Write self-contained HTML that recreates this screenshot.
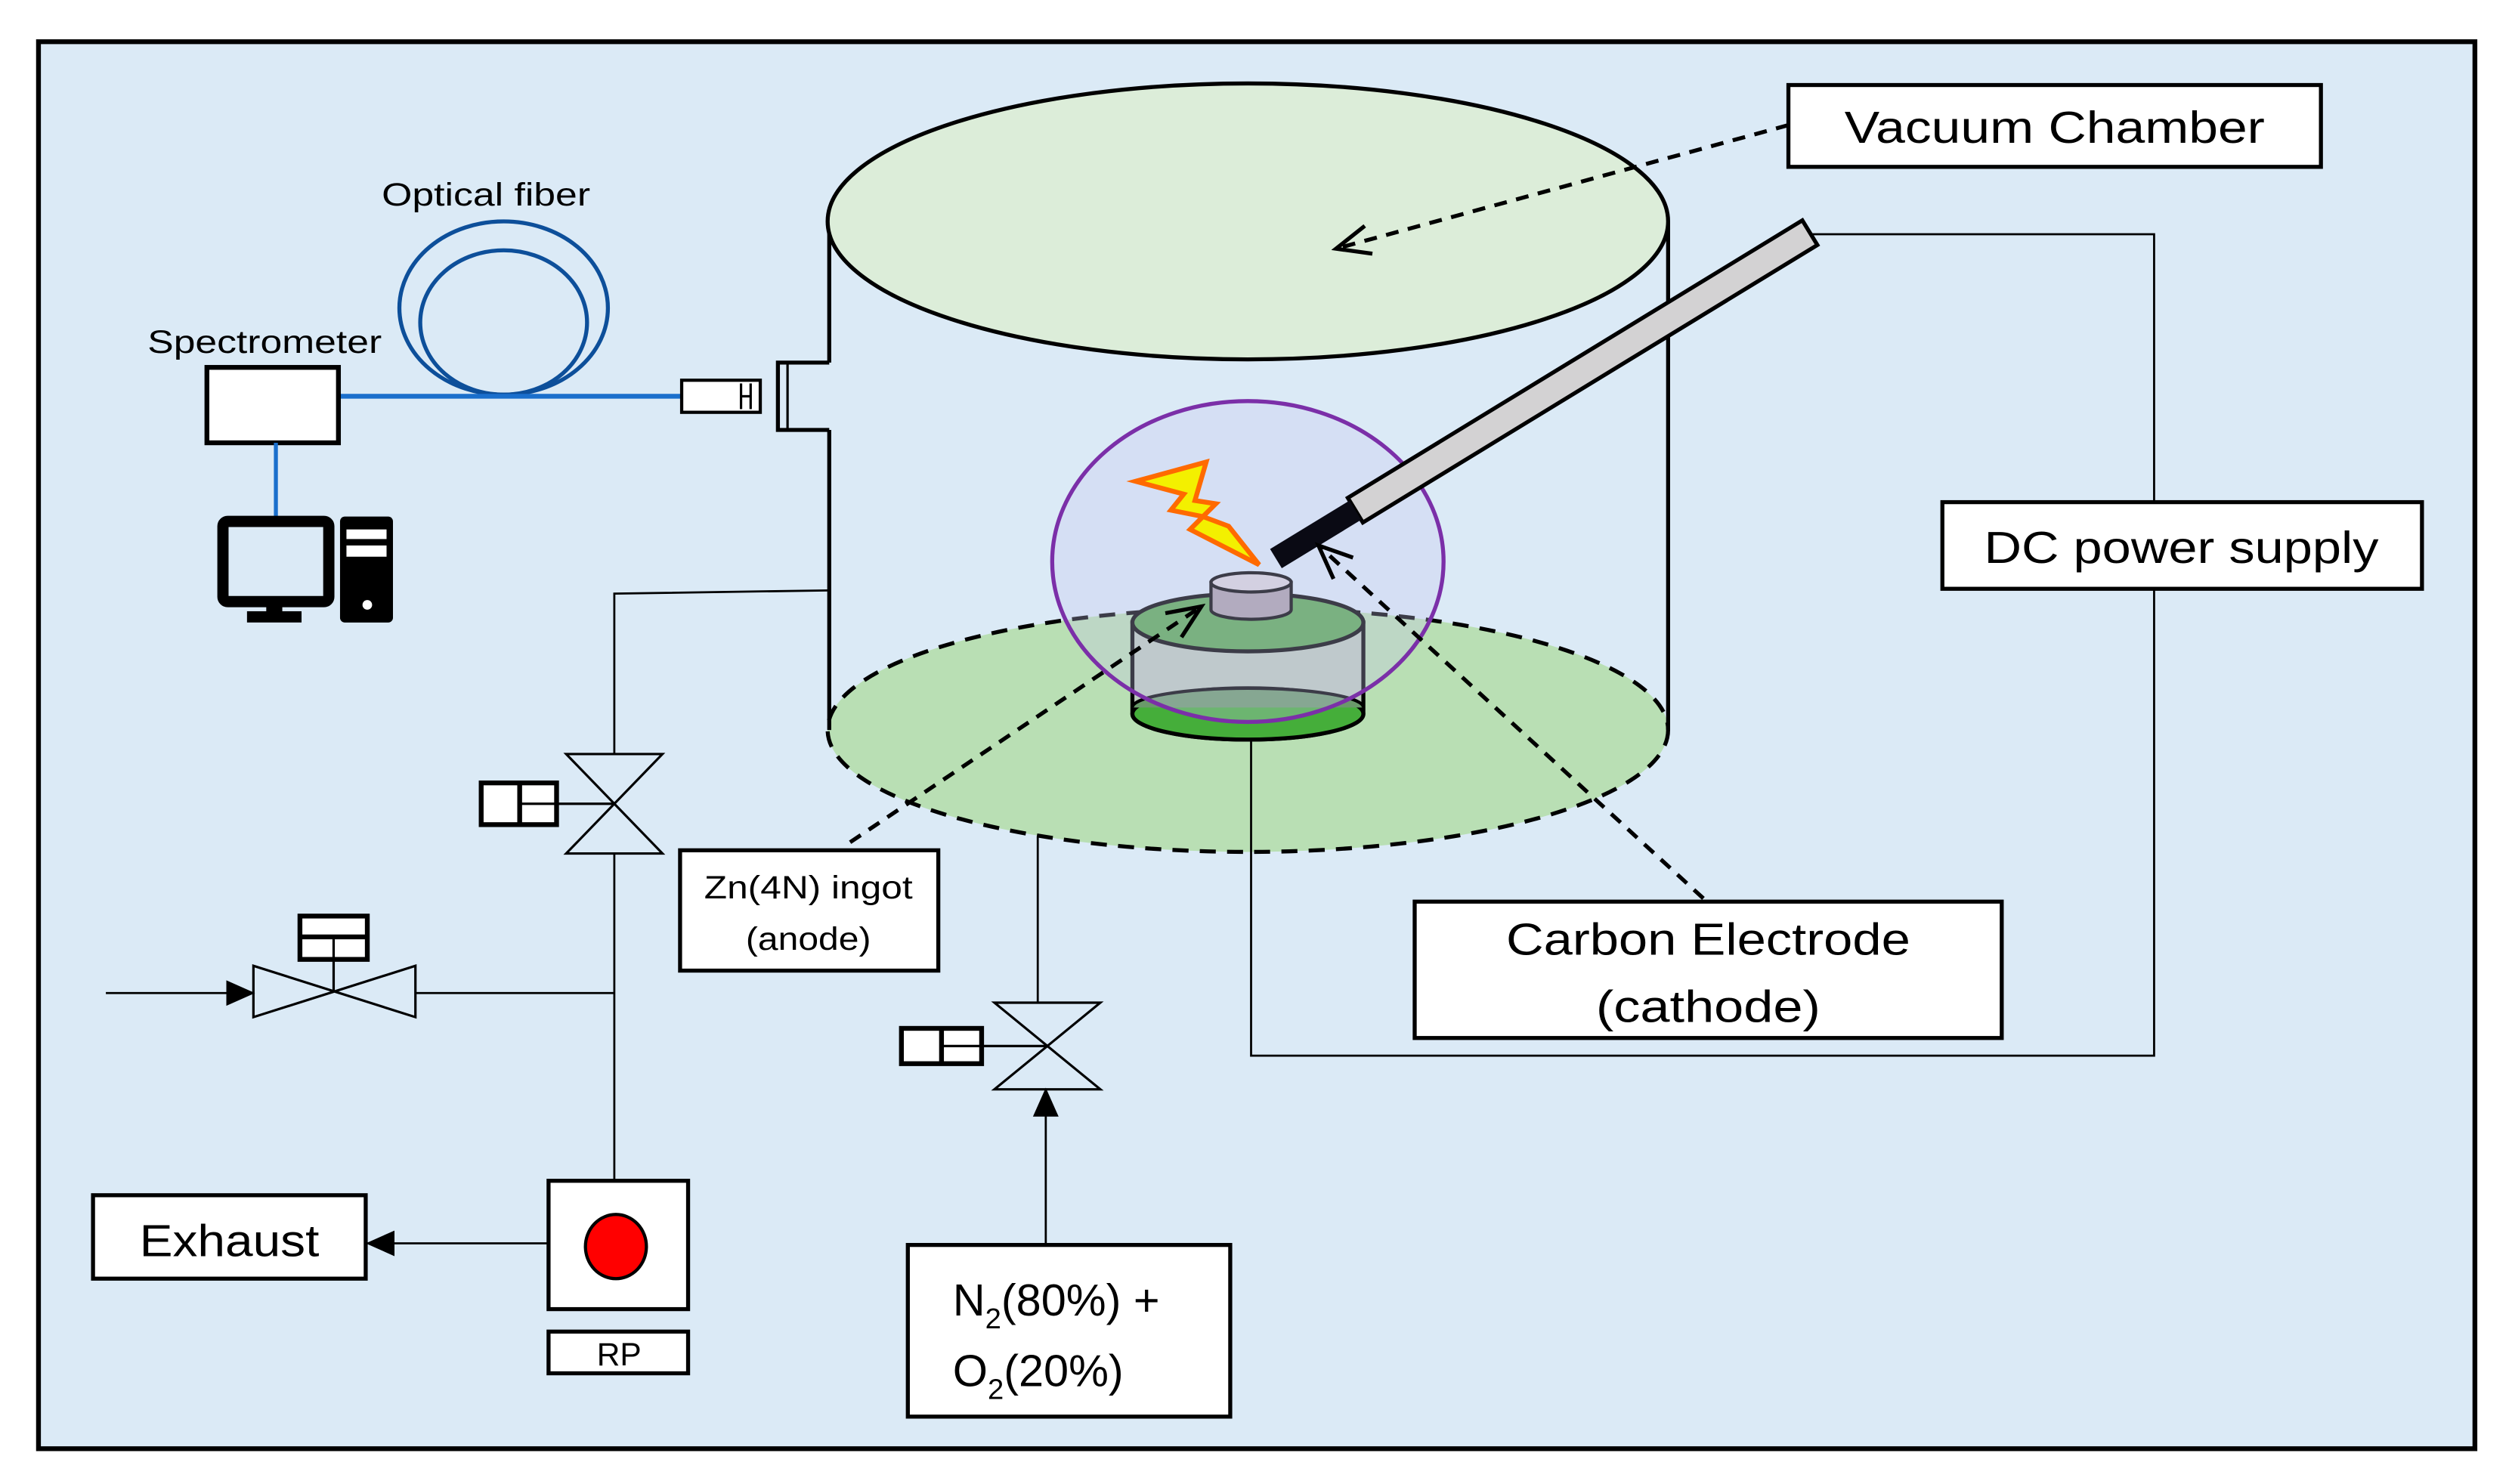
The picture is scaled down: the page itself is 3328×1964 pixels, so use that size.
<!DOCTYPE html>
<html><head><meta charset="utf-8"><style>html,body{margin:0;padding:0;background:#fff}svg{display:block}</style></head>
<body>
<svg width="3328" height="1964" viewBox="0 0 1568 925" preserveAspectRatio="none" xmlns="http://www.w3.org/2000/svg" font-family="Liberation Sans, sans-serif">
<defs>
<marker id="open" markerWidth="26" markerHeight="26" refX="23" refY="12" orient="auto" markerUnits="userSpaceOnUse"><path d="M2,3 L23,12 L2,21" fill="none" stroke="#000" stroke-width="2.5"/></marker>
<marker id="fill" markerWidth="18" markerHeight="18" refX="17" refY="9" orient="auto" markerUnits="userSpaceOnUse"><path d="M0,1 L18,9 L0,17 Z" fill="#000"/></marker>
</defs>
<rect x="0" y="0" width="1568" height="925" fill="#fff"/>
<rect x="24" y="26" width="1519" height="877" fill="#dbeaf6" stroke="#000" stroke-width="3"/>

<!-- chamber -->
<ellipse cx="778" cy="455" rx="262" ry="76" fill="#b9dfb4" stroke="#000" stroke-width="2.5" stroke-dasharray="10,7"/>
<line x1="517" y1="138" x2="517" y2="226" stroke="#000" stroke-width="2.5"/>
<line x1="517" y1="268" x2="517" y2="455" stroke="#000" stroke-width="2.5"/>
<line x1="1040" y1="138" x2="1040" y2="455" stroke="#000" stroke-width="2.5"/>
<ellipse cx="778" cy="138" rx="262" ry="86" fill="#dcedd9" stroke="#000" stroke-width="2.5"/>
<path d="M517,226 L485,226 L485,268 L517,268" fill="none" stroke="#000" stroke-width="2.5"/>
<line x1="491" y1="226" x2="491" y2="268" stroke="#000" stroke-width="1.5"/>

<!-- DC wiring -->
<polyline points="1127,146 1343,146 1343,313" fill="none" stroke="#000" stroke-width="1.3"/>
<polyline points="1343,367 1343,658 780,658 780,462" fill="none" stroke="#000" stroke-width="1.3"/>

<!-- holder -->
<path d="M706,388 L706,445 A72,16 0 0 0 850,445 L850,388 Z" fill="#bccbbd" stroke="#000" stroke-width="2.5"/>
<ellipse cx="778" cy="445" rx="72" ry="16" fill="#45ae3a" stroke="#000" stroke-width="2.5"/>
<path d="M706,441 A72,12 0 0 1 850,441" fill="#6a9a6a" stroke="#000" stroke-width="2"/>
<ellipse cx="778" cy="388" rx="72" ry="18" fill="#5aa852" stroke="#000" stroke-width="2.5"/>
<path d="M755,363 L755,380 A25,6 0 0 0 805,380 L805,363 Z" fill="#aaa0ab" stroke="#000" stroke-width="2"/>
<ellipse cx="780" cy="363" rx="25" ry="6" fill="#d8d4dc" stroke="#000" stroke-width="2"/>

<!-- plasma -->
<ellipse cx="778" cy="350" rx="122" ry="100" fill="#c8c8f0" fill-opacity="0.3" stroke="#7b2fa8" stroke-width="2.5"/>

<!-- bolt -->
<path d="M708,300 L752,288 L745,312 L758,314 L750,322 L766,328 L785,352 L742,330 L750,322 L730,318 L738,308 Z" fill="#f3f000" stroke="#ff6a00" stroke-width="3" stroke-linejoin="miter"/>

<!-- electrode rod -->
<g transform="translate(845,318) rotate(-31.4)">
<rect x="0" y="-9" width="332" height="18" fill="#d3d2d3" stroke="#000" stroke-width="2.5"/>
<rect x="-58" y="-7" width="58" height="14" fill="#0a0a14"/>
</g>

<!-- Vacuum chamber label -->
<rect x="1115" y="53" width="332" height="51" fill="#fff" stroke="#000" stroke-width="2.5"/>
<text x="1281" y="89" font-size="28" text-anchor="middle" textLength="262" lengthAdjust="spacingAndGlyphs">Vacuum Chamber</text>
<line x1="1115" y1="78" x2="833" y2="155" stroke="#000" stroke-width="2.5" stroke-dasharray="8,6" marker-end="url(#open)"/>

<!-- DC box -->
<rect x="1211" y="313" width="299" height="54" fill="#fff" stroke="#000" stroke-width="2.5"/>
<text x="1360" y="351" font-size="28" text-anchor="middle" textLength="246" lengthAdjust="spacingAndGlyphs">DC power supply</text>

<!-- Carbon electrode -->
<line x1="1062" y1="560" x2="822" y2="340" stroke="#000" stroke-width="2.5" stroke-dasharray="8,6" marker-end="url(#open)"/>
<rect x="882" y="562" width="366" height="85" fill="#fff" stroke="#000" stroke-width="2.5"/>
<text x="1065" y="595" font-size="28" text-anchor="middle" textLength="252" lengthAdjust="spacingAndGlyphs">Carbon Electrode</text>
<text x="1065" y="637" font-size="28" text-anchor="middle" textLength="140" lengthAdjust="spacingAndGlyphs">(cathode)</text>

<!-- Zn -->
<line x1="530" y1="525" x2="749" y2="378" stroke="#000" stroke-width="2.5" stroke-dasharray="8,6" marker-end="url(#open)"/>
<rect x="424" y="530" width="161" height="75" fill="#fff" stroke="#000" stroke-width="2.5"/>
<text x="504" y="560" font-size="20" text-anchor="middle" textLength="130" lengthAdjust="spacingAndGlyphs">Zn(4N) ingot</text>
<text x="504" y="592" font-size="20" text-anchor="middle" textLength="78" lengthAdjust="spacingAndGlyphs">(anode)</text>

<!-- optical -->
<text x="238" y="128" font-size="20" textLength="130" lengthAdjust="spacingAndGlyphs">Optical fiber</text>
<ellipse cx="314" cy="192" rx="65" ry="54" fill="none" stroke="#0d4f9a" stroke-width="2.5"/>
<ellipse cx="314" cy="201" rx="52" ry="45" fill="none" stroke="#0d4f9a" stroke-width="2.5"/>
<line x1="211" y1="247" x2="425" y2="247" stroke="#1a6fcc" stroke-width="3"/>
<rect x="425" y="237" width="49" height="20" fill="#fff" stroke="#000" stroke-width="2"/>
<line x1="462" y1="239" x2="462" y2="255" stroke="#000" stroke-width="1.5"/>
<line x1="468" y1="239" x2="468" y2="255" stroke="#000" stroke-width="1.5"/>
<line x1="462" y1="247" x2="468" y2="247" stroke="#000" stroke-width="1.5"/>
<text x="92" y="220" font-size="20" textLength="146" lengthAdjust="spacingAndGlyphs">Spectrometer</text>
<rect x="129" y="229" width="82" height="47" fill="#fff" stroke="#000" stroke-width="3"/>
<line x1="172" y1="276" x2="172" y2="323" stroke="#1a6fcc" stroke-width="2.5"/>
<!-- computer -->
<rect x="139" y="325" width="66" height="50" rx="3" fill="none" stroke="#000" stroke-width="7"/>
<rect x="166" y="375" width="10" height="7" fill="#000"/>
<rect x="154" y="381" width="34" height="7" fill="#000"/>
<rect x="212" y="322" width="33" height="66" rx="3" fill="#000"/>
<rect x="216" y="330" width="25" height="6" fill="#fff"/>
<rect x="216" y="340" width="25" height="7" fill="#fff"/>
<circle cx="229" cy="377" r="3" fill="#fff"/>

<!-- vacuum line -->
<polyline points="517,368 383,370 383,470" fill="none" stroke="#000" stroke-width="1.3"/>
<path d="M353,470 L413,470 L353,532 L413,532 Z" fill="none" stroke="#000" stroke-width="1.5"/>
<rect x="300" y="488" width="47" height="26" fill="#fff" stroke="#000" stroke-width="3"/>
<line x1="324" y1="488" x2="324" y2="514" stroke="#000" stroke-width="3"/>
<line x1="324" y1="501" x2="383" y2="501" stroke="#000" stroke-width="1.5"/>
<line x1="383" y1="532" x2="383" y2="735" stroke="#000" stroke-width="1.3"/>

<line x1="66" y1="619" x2="158" y2="619" stroke="#000" stroke-width="1.3" marker-end="url(#fill)"/>
<path d="M158,602 L158,634 L259,602 L259,634 Z" fill="none" stroke="#000" stroke-width="1.5"/>
<rect x="187" y="571" width="42" height="27" fill="#fff" stroke="#000" stroke-width="3"/>
<line x1="187" y1="584" x2="229" y2="584" stroke="#000" stroke-width="3"/>
<line x1="208" y1="584" x2="208" y2="618" stroke="#000" stroke-width="1.5"/>
<line x1="259" y1="619" x2="383" y2="619" stroke="#000" stroke-width="1.3"/>

<!-- RP -->
<rect x="342" y="736" width="87" height="80" fill="#fff" stroke="#000" stroke-width="2.5"/>
<ellipse cx="384" cy="777" rx="19" ry="20" fill="#f00" stroke="#000" stroke-width="2"/>
<rect x="342" y="830" width="87" height="26" fill="#fff" stroke="#000" stroke-width="2.5"/>
<text x="386" y="851" font-size="20" text-anchor="middle">RP</text>
<line x1="342" y1="775" x2="229" y2="775" stroke="#000" stroke-width="1.3" marker-end="url(#fill)"/>
<rect x="58" y="745" width="170" height="52" fill="#fff" stroke="#000" stroke-width="2.5"/>
<text x="143" y="783" font-size="28" text-anchor="middle" textLength="112" lengthAdjust="spacingAndGlyphs">Exhaust</text>

<!-- gas -->
<line x1="647" y1="522" x2="647" y2="625" stroke="#000" stroke-width="1.3"/>
<path d="M620,625 L686,625 L620,679 L686,679 Z" fill="none" stroke="#000" stroke-width="1.5"/>
<rect x="562" y="641" width="50" height="22" fill="#fff" stroke="#000" stroke-width="3"/>
<line x1="587" y1="641" x2="587" y2="663" stroke="#000" stroke-width="3"/>
<line x1="587" y1="652" x2="653" y2="652" stroke="#000" stroke-width="1.5"/>
<line x1="652" y1="776" x2="652" y2="679" stroke="#000" stroke-width="1.3" marker-end="url(#fill)"/>
<rect x="566" y="776" width="201" height="107" fill="#fff" stroke="#000" stroke-width="2.5"/>
<text x="594" y="820" font-size="28">N<tspan font-size="18" dy="8">2</tspan><tspan dy="-8">(80%) +</tspan></text>
<text x="594" y="864" font-size="28">O<tspan font-size="18" dy="8">2</tspan><tspan dy="-8">(20%)</tspan></text>
</svg>
</body></html>
